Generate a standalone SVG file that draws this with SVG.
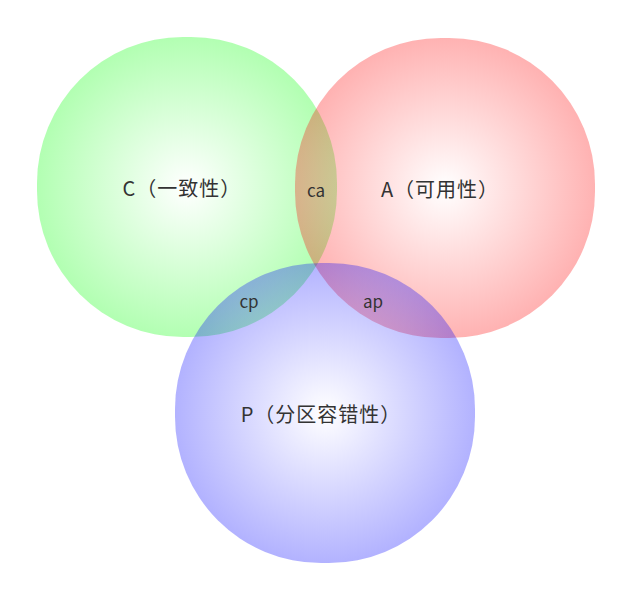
<svg xmlns="http://www.w3.org/2000/svg" width="633" height="601" viewBox="0 0 633 601">
<defs>
<radialGradient id="gG" cx="0.5" cy="0.5" r="0.5"><stop offset="0" stop-color="#ffffff"/><stop offset="1" stop-color="#00ff00"/></radialGradient>
<radialGradient id="gR" cx="0.5" cy="0.5" r="0.5"><stop offset="0" stop-color="#ffffff"/><stop offset="1" stop-color="#ff0000"/></radialGradient>
<radialGradient id="gB" cx="0.5" cy="0.5" r="0.5"><stop offset="0" stop-color="#ffffff"/><stop offset="1" stop-color="#0000ff"/></radialGradient>
<style>
.set{opacity:0.3}
.lbl{font-family:"Microsoft YaHei","Noto Sans CJK SC","Noto Sans",sans-serif;font-size:20px;letter-spacing:1px;fill:#333;text-anchor:middle}
.sm{font-family:"Microsoft YaHei","Noto Sans CJK SC","Noto Sans",sans-serif;font-size:17px;fill:#333;text-anchor:middle}
</style>
</defs>
<rect width="633" height="601" fill="#fff"/>
<g id="C"><rect class="set" x="37" y="37" width="300" height="300" rx="146" fill="url(#gG)"/></g>
<g id="A"><rect class="set" x="295" y="38" width="300" height="300" rx="146" fill="url(#gR)"/></g>
<g id="P"><rect class="set" x="175" y="263" width="300" height="300" rx="146" fill="url(#gB)"/></g>
<g id="labels">
<text class="lbl" x="182" y="196">C（一致性）</text>
<text class="lbl" x="440" y="197">A（可用性）</text>
<text class="lbl" x="321" y="422">P（分区容错性）</text>
<text class="sm" x="316" y="197">ca</text>
<text class="sm" x="249" y="308">cp</text>
<text class="sm" x="373" y="308">ap</text>
</g>
<g id="connectors"/>
</svg>
